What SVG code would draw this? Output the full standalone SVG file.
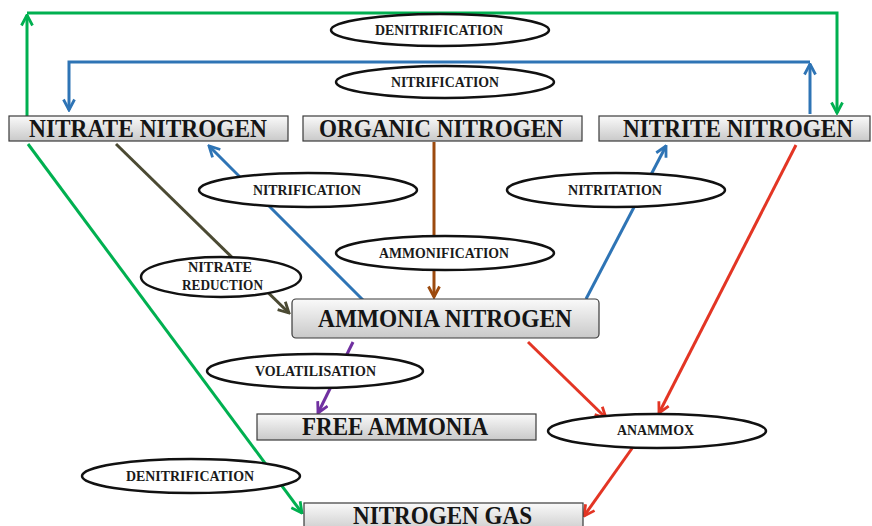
<svg xmlns="http://www.w3.org/2000/svg" width="872" height="526" viewBox="0 0 872 526">
<style>
.box{stroke:#3a3a3a;stroke-width:1.2;fill:url(#g)}
.bt{font-family:"Liberation Serif","Times New Roman",serif;font-weight:bold;font-size:25px;fill:#151515;text-anchor:middle}
.el{fill:#fff;stroke:#111;stroke-width:2.5}
.lt{font-family:"Liberation Serif","Times New Roman",serif;font-weight:bold;font-size:14px;fill:#1a1a1a}
.c{fill:none;stroke-width:3;stroke-linecap:butt;stroke-linejoin:miter}
.gr{stroke:#00b050}.bl{stroke:#2e74b5}.br{stroke:#9c4a0e}.ol{stroke:#4b4a33}.rd{stroke:#e33524}.pu{stroke:#7030a0}
</style>
<defs>
<linearGradient id="g" x1="0" y1="0" x2="0" y2="1">
<stop offset="0" stop-color="#fafafa"/><stop offset="1" stop-color="#c9c9c9"/>
</linearGradient>
<marker id="mg" markerUnits="userSpaceOnUse" viewBox="0 0 14 14" markerWidth="14" markerHeight="14" refX="12.5" refY="7" orient="auto"><path d="M2,1.5 L12.5,7 L2,12.5" fill="none" stroke="#00b050" stroke-width="2.8"/></marker>
<marker id="mb" markerUnits="userSpaceOnUse" viewBox="0 0 14 14" markerWidth="14" markerHeight="14" refX="12.5" refY="7" orient="auto"><path d="M2,1.5 L12.5,7 L2,12.5" fill="none" stroke="#2e74b5" stroke-width="2.8"/></marker>
<marker id="mbr" markerUnits="userSpaceOnUse" viewBox="0 0 14 14" markerWidth="14" markerHeight="14" refX="12.5" refY="7" orient="auto"><path d="M2,1.5 L12.5,7 L2,12.5" fill="none" stroke="#9c4a0e" stroke-width="2.8"/></marker>
<marker id="mo" markerUnits="userSpaceOnUse" viewBox="0 0 14 14" markerWidth="14" markerHeight="14" refX="12.5" refY="7" orient="auto"><path d="M2,1.5 L12.5,7 L2,12.5" fill="none" stroke="#4b4a33" stroke-width="2.8"/></marker>
<marker id="mr" markerUnits="userSpaceOnUse" viewBox="0 0 14 14" markerWidth="14" markerHeight="14" refX="12.5" refY="7" orient="auto"><path d="M2,1.5 L12.5,7 L2,12.5" fill="none" stroke="#e33524" stroke-width="2.8"/></marker>
<marker id="mp" markerUnits="userSpaceOnUse" viewBox="0 0 14 14" markerWidth="14" markerHeight="14" refX="12.5" refY="7" orient="auto"><path d="M2,1.5 L12.5,7 L2,12.5" fill="none" stroke="#7030a0" stroke-width="2.8"/></marker>
</defs>
<rect width="872" height="526" fill="#fff"/>
<g id="connectors">
<path class="c gr" d="M27,116 V15" marker-end="url(#mg)"/>
<path class="c gr" d="M27,13 H837 V113" marker-end="url(#mg)"/>
<path class="c bl" d="M810,114 V64" marker-end="url(#mb)"/>
<path class="c bl" d="M810,62 H69 V110" marker-end="url(#mb)"/>
<path class="c gr" d="M28,144 L302,513" marker-end="url(#mg)"/>
<path class="c ol" d="M116,144 L289,313" marker-end="url(#mo)"/>
<path class="c bl" d="M363,300 L209,146" marker-end="url(#mb)"/>
<path class="c br" d="M434,142 V297" marker-end="url(#mbr)"/>
<path class="c bl" d="M586,299 L666,146" marker-end="url(#mb)"/>
<path class="c rd" d="M796,145 L659,413" marker-end="url(#mr)"/>
<path class="c rd" d="M528,342 L606,418" marker-end="url(#mr)"/>
<path class="c rd" d="M633,447 L584,516" marker-end="url(#mr)"/>
<path class="c pu" d="M353,342 L318,413" marker-end="url(#mp)"/>
</g>
<g id="nitrate"><rect class="box" x="9" y="116" width="279" height="25"/><text class="bt" x="148" y="137" textLength="238" lengthAdjust="spacingAndGlyphs">NITRATE NITROGEN</text></g>
<g id="organic"><rect class="box" x="303" y="116" width="279" height="25"/><text class="bt" x="441" y="137" textLength="244" lengthAdjust="spacingAndGlyphs">ORGANIC NITROGEN</text></g>
<g id="nitrite"><rect class="box" x="599" y="116" width="271" height="25"/><text class="bt" x="738" y="137" textLength="230" lengthAdjust="spacingAndGlyphs">NITRITE NITROGEN</text></g>
<g id="ammonia"><rect class="box" x="292" y="299" width="307" height="39" rx="4"/><text class="bt" x="445" y="327" textLength="254" lengthAdjust="spacingAndGlyphs">AMMONIA NITROGEN</text></g>
<g id="free-ammonia"><rect class="box" x="257" y="414" width="279" height="26"/><text class="bt" x="395" y="435" textLength="186" lengthAdjust="spacingAndGlyphs">FREE AMMONIA</text></g>
<g id="nitrogen-gas"><rect class="box" x="304" y="503" width="279" height="30"/><text class="bt" x="442.5" y="524" textLength="179" lengthAdjust="spacingAndGlyphs">NITROGEN GAS</text></g>
<g id="lbl-denit-top"><ellipse class="el" cx="440" cy="30" rx="109" ry="16"/><text class="lt" x="375" y="35" textLength="128" lengthAdjust="spacingAndGlyphs">DENITRIFICATION</text></g>
<g id="lbl-nitrif-top"><ellipse class="el" cx="445" cy="82" rx="109" ry="16"/><text class="lt" x="391" y="87" textLength="108" lengthAdjust="spacingAndGlyphs">NITRIFICATION</text></g>
<g id="lbl-nitrif-mid"><ellipse class="el" cx="308" cy="190" rx="109" ry="17"/><text class="lt" x="253" y="195" textLength="108" lengthAdjust="spacingAndGlyphs">NITRIFICATION</text></g>
<g id="lbl-nitritation"><ellipse class="el" cx="616" cy="190" rx="109" ry="17"/><text class="lt" x="568" y="195" textLength="94" lengthAdjust="spacingAndGlyphs">NITRITATION</text></g>
<g id="lbl-ammonification"><ellipse class="el" cx="445" cy="253" rx="109" ry="17"/><text class="lt" x="379" y="258" textLength="130" lengthAdjust="spacingAndGlyphs">AMMONIFICATION</text></g>
<g id="lbl-nitrate-reduction"><ellipse class="el" cx="221" cy="277" rx="80" ry="20"/><text class="lt" x="188" y="272" textLength="64" lengthAdjust="spacingAndGlyphs">NITRATE</text><text class="lt" x="182" y="290" textLength="81" lengthAdjust="spacingAndGlyphs">REDUCTION</text></g>
<g id="lbl-volatilisation"><ellipse class="el" cx="315" cy="371" rx="108" ry="17"/><text class="lt" x="255" y="376" textLength="121" lengthAdjust="spacingAndGlyphs">VOLATILISATION</text></g>
<g id="lbl-denit-bottom"><ellipse class="el" cx="191" cy="476" rx="109" ry="17"/><text class="lt" x="126" y="481" textLength="128" lengthAdjust="spacingAndGlyphs">DENITRIFICATION</text></g>
<g id="lbl-anammox"><ellipse class="el" cx="657" cy="431" rx="109" ry="17"/><text class="lt" x="617" y="435" textLength="77" lengthAdjust="spacingAndGlyphs">ANAMMOX</text></g>
</svg>
